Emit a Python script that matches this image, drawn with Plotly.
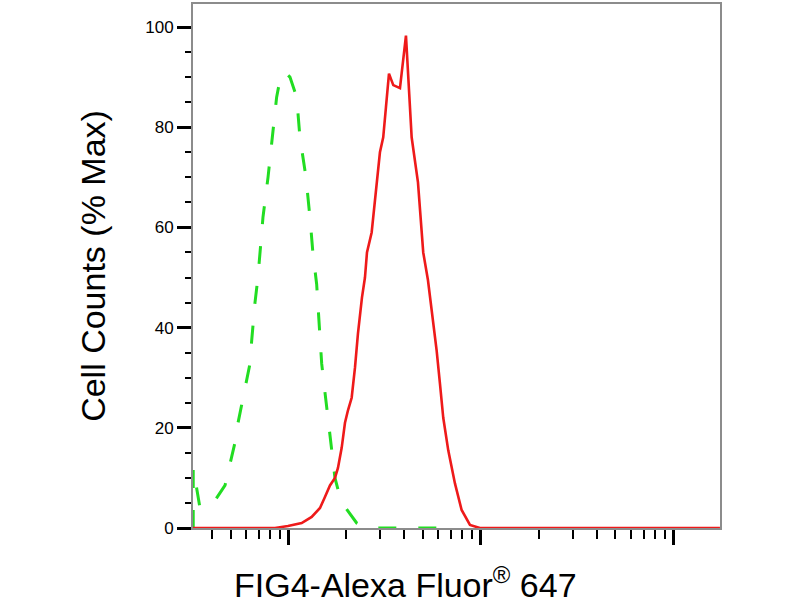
import plotly.graph_objects as go

# Stained sample (red, solid): fluorescence intensity vs % max
stained_x = [31.9, 85.1, 99.4, 117.1, 132.0, 145.8, 154.7, 164.3, 174.4, 180.8,
             189.0, 196.6, 203.8, 213.0, 221.6, 229.6, 240.9, 249.7, 255.8, 270.5,
             298.7, 310.7, 321.0, 332.8, 350.4, 379.6, 407.8, 436.5, 470.8, 501.4,
             530.4, 563.1, 588.7, 612.4, 637.1, 676.3, 732.7, 793.6, 876.9, 988.1,
             17443]
stained_y = [0, 0, 0.4, 1, 2.2, 4, 6.2, 8.5, 10, 12,
             16, 21, 23.5, 26, 32, 38.8, 46, 50, 55, 59,
             75, 78, 84, 90.7, 88.4, 87.8, 98.3, 78, 69, 55,
             49.5, 42, 35.4, 28.8, 22, 15.5, 8.9, 3.6, 0.6, 0,
             0]

# Control (green, dashed)
control_x = [32.0, 32.0, 34.7, 41.5, 46.8, 49.7, 52.7, 54.7, 57.1, 60.7,
             63.1, 64.4, 65.4, 67.0, 69.4, 71.1, 73.7, 78.3, 83.1, 86.8,
             91.4, 95.9, 101.8, 110.3, 114.7, 123.3, 129.3, 134.1, 140.1, 142.3,
             145.8, 148.8, 152.9, 157.9, 162.3, 167.7, 174.4, 185.1, 196.6, 226.1,
             254.8, 732.7]
control_y = [0, 12, 4, 5.5, 8.5, 13, 17, 21, 24.5, 29.4,
             32.8, 37.4, 41, 45, 50, 54.7, 62, 70, 79, 86,
             90.5, 91, 90, 86, 78, 70, 62, 54.7, 48.7, 44,
             38.8, 32.8, 28.8, 24, 20, 15.5, 10, 6.2, 4.2, 1,
             0, 0]

y_ticks = [0, 20, 40, 60, 80, 100]
y_ticklabels = ["0", "20", "40", "60", "80", "100"]

fig = go.Figure()
fig.add_trace(go.Scatter(x=control_x, y=control_y, mode="lines",
                         line=dict(color="#22dd22", width=3, dash="18px,22px"),
                         showlegend=False))
fig.add_trace(go.Scatter(x=stained_x, y=stained_y, mode="lines",
                         line=dict(color="#ee1a1a", width=2.6),
                         showlegend=False))

fig.update_layout(
    width=800, height=600,
    margin=dict(l=193, r=80, t=2, b=72),
    paper_bgcolor="white", plot_bgcolor="white",
    font=dict(family="Arial, Liberation Sans, sans-serif", color="black"),
    xaxis=dict(type="log", range=[1.504, 4.242], dtick=1,
               showgrid=False, zeroline=False, showticklabels=False,
               showline=True, linecolor="#8c8c8c", linewidth=2, mirror=True,
               ticks="outside", ticklen=15, tickwidth=3, tickcolor="black",
               minor=dict(ticks="outside", ticklen=9, tickwidth=2,
                          tickcolor="black", dtick="D1", showgrid=False)),
    yaxis=dict(range=[0, 104.6], tickvals=y_ticks, ticktext=y_ticklabels,
               showgrid=False, zeroline=False,
               showline=True, linecolor="#8c8c8c", linewidth=2, mirror=True,
               ticks="outside", ticklen=14, tickwidth=3, tickcolor="black",
               tickfont=dict(size=17, color="black"),
               minor=dict(ticks="outside", ticklen=6, tickwidth=2,
                          tickcolor="black", dtick=5, showgrid=False)),
    annotations=[
        dict(text="Cell Counts (% Max)", xref="paper", yref="paper",
             x=-0.19, y=0.5, textangle=-90, showarrow=False,
             xanchor="center", yanchor="middle",
             font=dict(size=34, color="black")),
        dict(text="FIG4-Alexa Fluor<sup>®</sup> 647", xref="paper", yref="paper",
             x=0.404, y=-0.104, showarrow=False,
             xanchor="center", yanchor="middle",
             font=dict(size=34, color="black")),
    ],
)

fig.write_html("out.html", config={"displayModeBar": False},
               post_script="document.body.style.margin='0px';")
